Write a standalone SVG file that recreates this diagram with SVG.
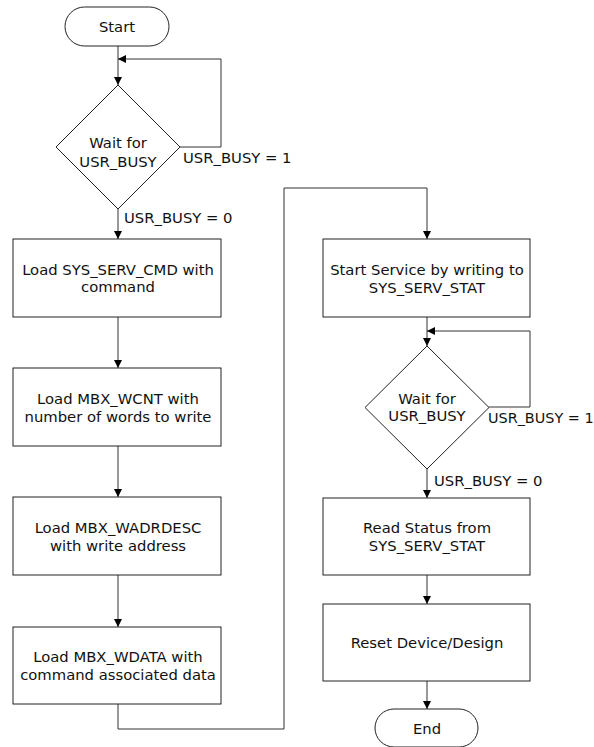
<svg xmlns="http://www.w3.org/2000/svg" width="594" height="747" viewBox="0 0 594 747">
<defs>
<marker id="ah" viewBox="0 0 8 8" refX="8" refY="4" markerWidth="8" markerHeight="8" markerUnits="userSpaceOnUse" orient="auto">
<path d="M0,0 L8,4 L0,8 z" fill="#000"/>
</marker>
<style>
.s{fill:#fff;stroke:#222;stroke-width:1}
.t{font-family:"DejaVu Sans",Verdana,sans-serif;font-size:14.8px;fill:#111;text-anchor:middle;dominant-baseline:central}
.l{font-family:"DejaVu Sans",Verdana,sans-serif;font-size:14.8px;fill:#111;dominant-baseline:central}
.c{fill:none;stroke:#333;stroke-width:1}
.a{marker-end:url(#ah)}
</style>
</defs>
<rect width="594" height="747" fill="#fff"/>
<g id="connectors">
<path class="c a" d="M118,46 V85"/>
<path class="c a" d="M179,147 H221 V59 H118"/>
<path class="c a" d="M118,209 V239"/>
<path class="c a" d="M118,317 V368"/>
<path class="c a" d="M118,446 V497"/>
<path class="c a" d="M118,575 V627"/>
<path class="c a" d="M118,704 V729 H284 V188 H427 V239"/>
<path class="c a" d="M427,317 V346"/>
<path class="c a" d="M489,407 H530 V331 H427"/>
<path class="c a" d="M427,469 V498"/>
<path class="c a" d="M427,575 V604"/>
<path class="c a" d="M427,681 V709"/>
<text class="l" x="183" y="157">USR_BUSY = 1</text>
<text class="l" x="124" y="217">USR_BUSY = 0</text>
<text class="l" x="488" y="418" style="font-size:14.4px">USR_BUSY = 1</text>
<text class="l" x="434" y="480">USR_BUSY = 0</text>
</g>
<g id="start">
<rect class="s" x="65" y="7" width="104" height="39" rx="19.5"/>
<text class="t" x="117" y="26">Start</text>
</g>
<g id="wait1">
<path class="s" d="M118,85 L180,147 L118,209 L56,147 z"/>
<text class="t" x="118" y="142">Wait for</text>
<text class="t" x="118" y="161">USR_BUSY</text>
</g>
<g id="box1">
<rect class="s" x="13" y="239" width="208" height="78"/>
<text class="t" x="118" y="269">Load SYS_SERV_CMD with</text>
<text class="t" x="118" y="286">command</text>
</g>
<g id="box2">
<rect class="s" x="13" y="368" width="208" height="78"/>
<text class="t" x="118" y="398">Load MBX_WCNT with</text>
<text class="t" x="118" y="416">number of words to write</text>
</g>
<g id="box3">
<rect class="s" x="13" y="497" width="208" height="78"/>
<text class="t" x="118" y="527">Load MBX_WADRDESC</text>
<text class="t" x="118" y="545">with write address</text>
</g>
<g id="box4">
<rect class="s" x="13" y="627" width="208" height="77"/>
<text class="t" x="118" y="656">Load MBX_WDATA with</text>
<text class="t" x="118" y="674">command associated data</text>
</g>
<g id="startService">
<rect class="s" x="323" y="239" width="207" height="78"/>
<text class="t" x="427" y="269">Start Service by writing to</text>
<text class="t" x="427" y="287">SYS_SERV_STAT</text>
</g>
<g id="wait2">
<path class="s" d="M427,346 L489,407.5 L427,469 L365,407.5 z"/>
<text class="t" x="427" y="398">Wait for</text>
<text class="t" x="427" y="415">USR_BUSY</text>
</g>
<g id="readStatus">
<rect class="s" x="323" y="498" width="207" height="77"/>
<text class="t" x="427" y="527">Read Status from</text>
<text class="t" x="427" y="545">SYS_SERV_STAT</text>
</g>
<g id="reset">
<rect class="s" x="323" y="604" width="207" height="77"/>
<text class="t" x="427" y="642">Reset Device/Design</text>
</g>
<g id="end">
<rect class="s" x="375" y="709" width="103" height="38" rx="19"/>
<text class="t" x="427" y="728">End</text>
</g>
</svg>
